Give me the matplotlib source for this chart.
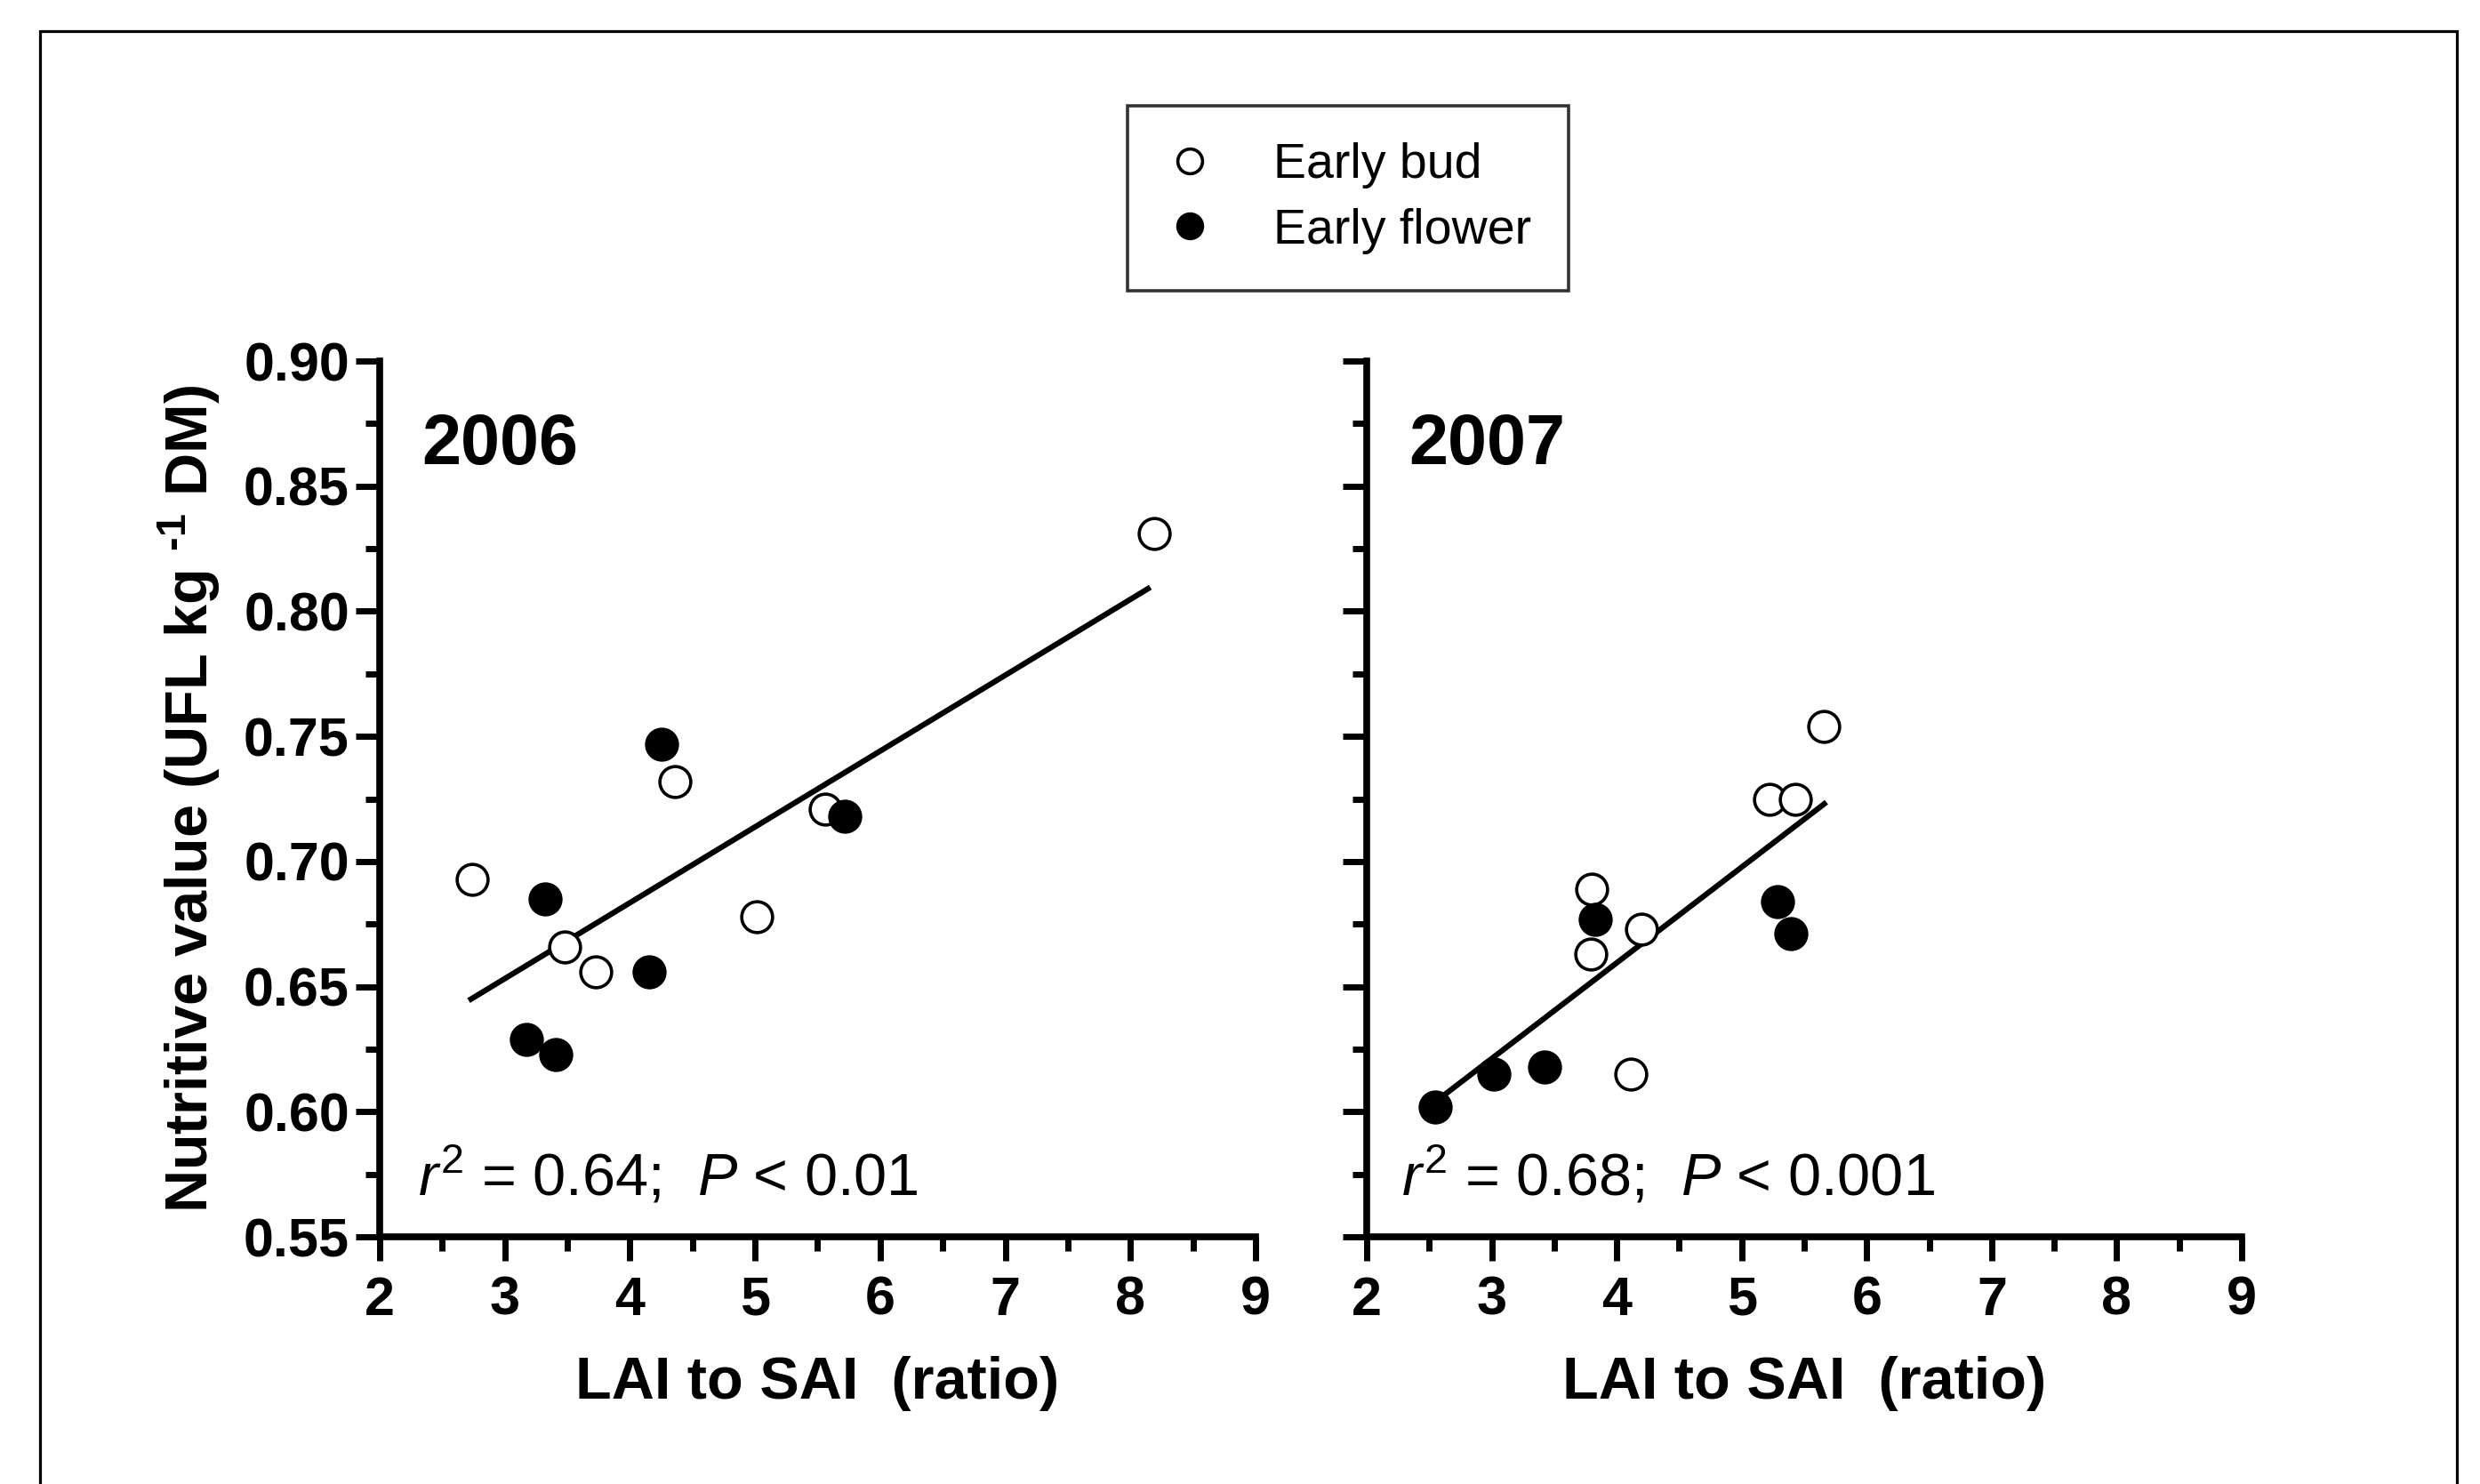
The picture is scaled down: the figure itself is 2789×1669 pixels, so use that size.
import matplotlib
matplotlib.use('Agg')
import matplotlib.pyplot as plt
from matplotlib.patches import Rectangle
from matplotlib.ticker import MultipleLocator, FormatStrFormatter

plt.rcParams['font.family'] = 'Liberation Sans'
plt.rcParams['mathtext.fontset'] = 'custom'
plt.rcParams['mathtext.rm'] = 'Liberation Sans'
plt.rcParams['mathtext.it'] = 'Liberation Sans:italic'
plt.rcParams['mathtext.bf'] = 'Liberation Sans:bold'

# 2006 - LAI:SAI ratio vs nutritive value
bud06_x = [2.74, 3.48, 3.73, 4.36, 5.01, 5.56, 8.19]
bud06_y = [0.693, 0.666, 0.656, 0.732, 0.678, 0.721, 0.831]
flw06_x = [3.17, 3.41, 3.32, 4.15, 4.25, 5.72]
flw06_y = [0.629, 0.623, 0.685, 0.656, 0.747, 0.718]
fit06_x = [2.73, 8.14]
fit06_y = [0.645, 0.809]

# 2007
bud07_x = [3.80, 3.79, 4.20, 4.11, 5.22, 5.43, 5.66]
bud07_y = [0.689, 0.663, 0.673, 0.615, 0.725, 0.725, 0.754]
flw07_x = [2.55, 3.02, 3.42, 3.83, 5.29, 5.39]
flw07_y = [0.602, 0.615, 0.618, 0.677, 0.684, 0.671]
fit07_x = [2.55, 5.66]
fit07_y = [0.604, 0.723]

years = ['2006', '2007']
stats = [r'$\mathit{r}^{\mathrm{2}}$ = 0.64;  $\mathit{P}$ < 0.01',
         r'$\mathit{r}^{\mathrm{2}}$ = 0.68;  $\mathit{P}$ < 0.001']

W, H = 2789, 1669
fig = plt.figure(figsize=(W / 100, H / 100), dpi=100)

ax1 = fig.add_axes([427 / W, 1 - 1391 / H, 985 / W, 985 / H])
ax2 = fig.add_axes([1537 / W, 1 - 1391 / H, 984 / W, 985 / H])

data = [(bud06_x, bud06_y, flw06_x, flw06_y, fit06_x, fit06_y),
        (bud07_x, bud07_y, flw07_x, flw07_y, fit07_x, fit07_y)]

for i, ax in enumerate([ax1, ax2]):
    bx, by, fx, fy, lx, ly = data[i]
    ax.plot(lx, ly, color='black', lw=4.5, zorder=2)
    ax.plot(bx, by, 'o', ms=25, mfc='white', mec='black', mew=2.6, zorder=3,
            label='Early bud')
    ax.plot(fx, fy, 'o', ms=25, mfc='black', mec='black', mew=2.6, zorder=3,
            label='Early flower')

    ax.set_xlim(2, 9)
    ax.set_ylim(0.55, 0.90)
    ax.xaxis.set_major_locator(MultipleLocator(1))
    ax.xaxis.set_minor_locator(MultipleLocator(0.5))
    ax.yaxis.set_major_locator(MultipleLocator(0.05))
    ax.yaxis.set_minor_locator(MultipleLocator(0.025))
    ax.yaxis.set_major_formatter(FormatStrFormatter('%.2f'))

    for s in ['top', 'right']:
        ax.spines[s].set_visible(False)
    for s in ['left', 'bottom']:
        ax.spines[s].set_linewidth(5.5)
    ax.tick_params(which='major', direction='out', length=19.5, width=5,
                   labelsize=44)
    ax.tick_params(axis='x', which='major', pad=12)
    ax.tick_params(axis='y', which='major', pad=5)
    ax.tick_params(which='minor', direction='out', length=11.5, width=5)
    for lab in ax.get_xticklabels() + ax.get_yticklabels():
        lab.set_fontweight('bold')

    ax.set_xlabel('LAI to SAI  (ratio)', fontsize=48, fontweight='bold', labelpad=24)
    ax.text(0.048, 0.882, years[i], transform=ax.transAxes, fontsize=57,
            fontweight='bold', ha='left', va='baseline')
    ax.text(0.044 if i == 0 else 0.04, 0.047, stats[i], transform=ax.transAxes,
            fontsize=48, ha='left', va='baseline')

ax2.tick_params(labelleft=False)

ax1.set_ylabel('Nutritive value (UFL kg $^{\\mathbf{\u20101}}$ DM)', fontsize=48,
               fontweight='bold')
ax1.yaxis.set_label_coords(-0.18, 0.5)

handles, labels = ax1.get_legend_handles_labels()
leg = fig.legend(handles, labels, loc='center', bbox_to_anchor=(0.5436, 0.8664),
                 fontsize=40, frameon=True, fancybox=False, borderpad=0.75,
                 labelspacing=0.38, handlelength=1.0, handletextpad=1.2,
                 markerscale=0.8)
leg.get_frame().set_edgecolor('black')
leg.get_frame().set_linewidth(2.6)

# outer frame around the figure (open at bottom)
fig.add_artist(Rectangle((45 / W, -0.05), (2763 - 45) / W, 1 - 35 / H + 0.05,
                         transform=fig.transFigure, fill=False,
                         edgecolor='black', lw=2.3))

fig.savefig('out.png', dpi=100, facecolor='white')
